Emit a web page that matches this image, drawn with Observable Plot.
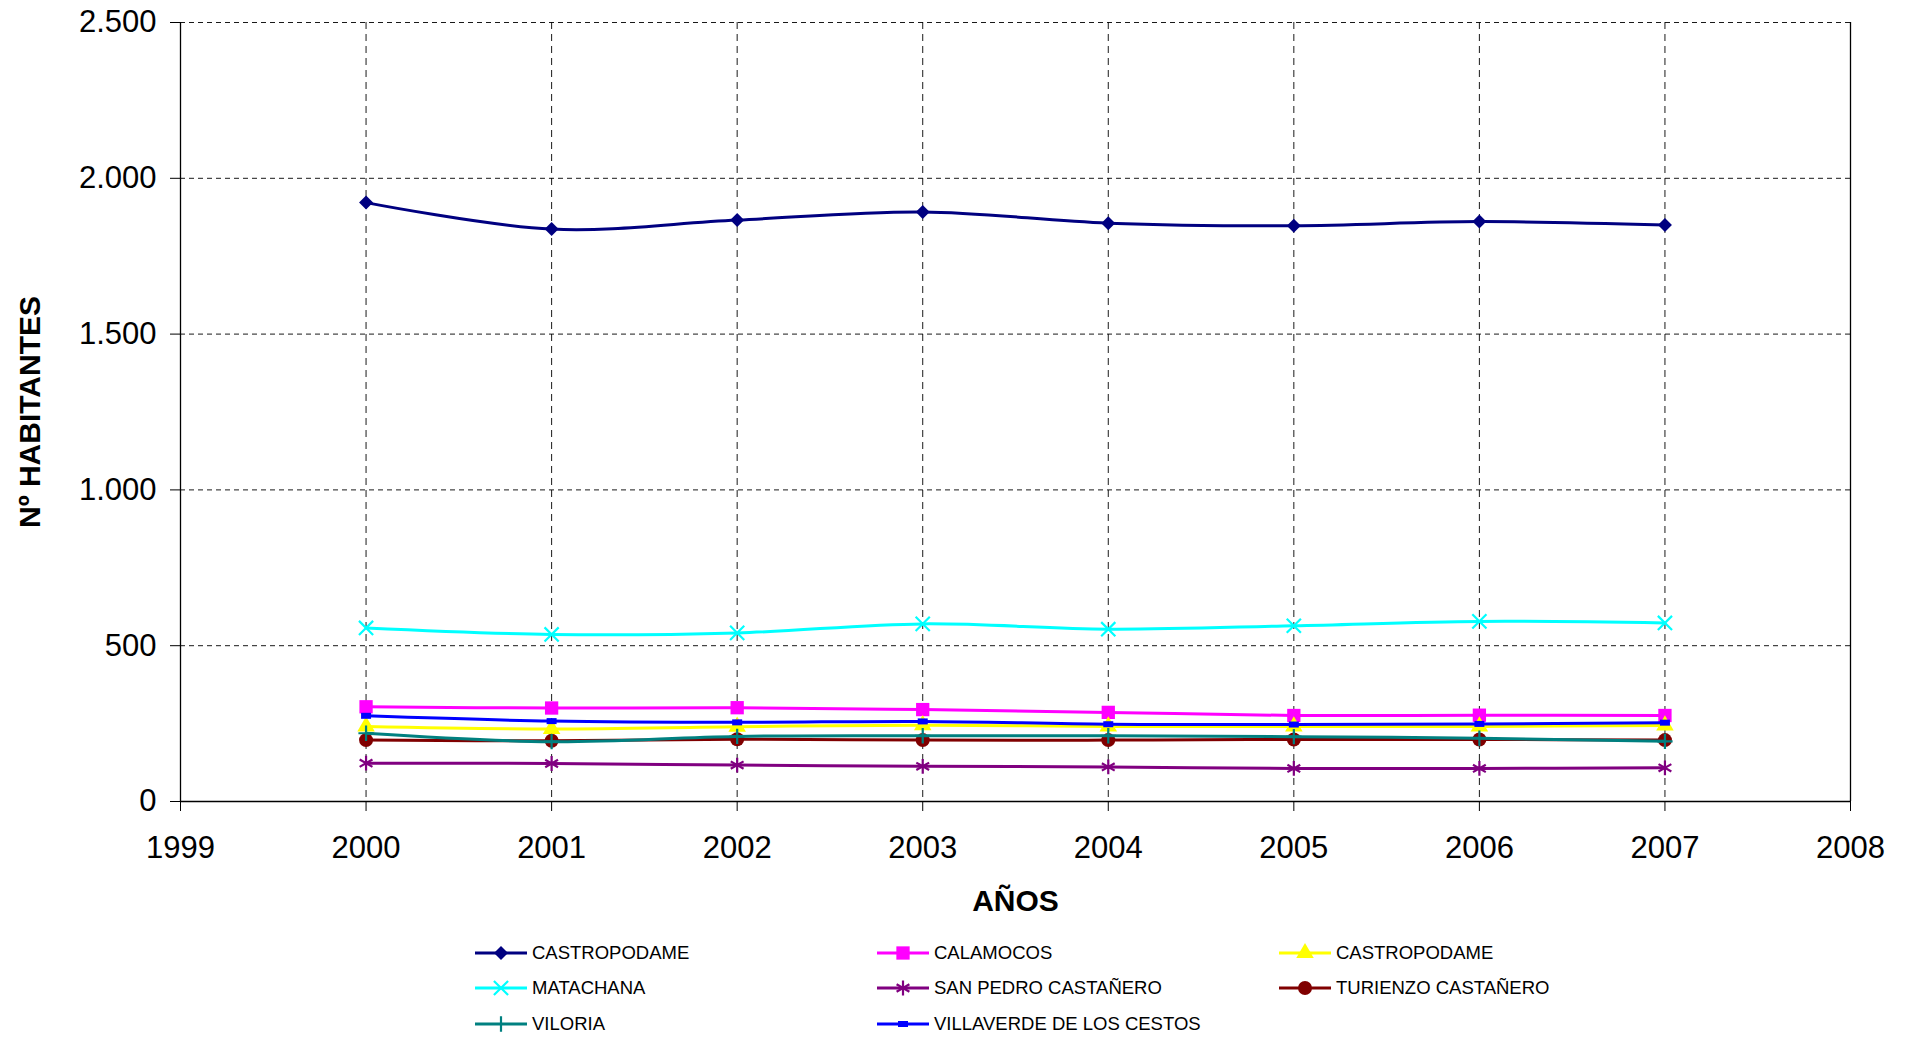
<!DOCTYPE html>
<html><head><meta charset="utf-8">
<script src="https://cdn.jsdelivr.net/npm/d3@7"></script>
<script src="https://cdn.jsdelivr.net/npm/@observablehq/plot@0.6"></script>
<style>
body{margin:0;background:#fff;font-family:"Liberation Sans",Arial,sans-serif;}
#wrap{position:relative;width:1907px;height:1037px;overflow:hidden;}
#legend{position:absolute;left:475px;top:935px;display:grid;grid-template-columns:402px 402px 402px;grid-auto-rows:35.5px;}
.item{display:flex;align-items:center;font-size:18.5px;color:#000;white-space:nowrap;}
.item svg{margin-right:5px;flex:none;}
</style></head><body><div id="wrap"><div id="chart"></div><div id="legend"></div></div>
<script>
// ---- data ----
const years = [2000, 2001, 2002, 2003, 2004, 2005, 2006, 2007];
const seriesNames = ["CASTROPODAME", "CALAMOCOS", "CASTROPODAME ", "MATACHANA", "SAN PEDRO CASTAÑERO", "TURIENZO CASTAÑERO", "VILORIA", "VILLAVERDE DE LOS CESTOS"];
const castropodame = [1922, 1837, 1866, 1892, 1856, 1848, 1861, 1850];
const calamocos = [304, 300, 301, 295, 286, 276, 277, 276];
const castropodame2 = [241, 233, 240, 245, 241, 241, 241, 244];
const matachana = [557, 536, 541, 570, 553, 564, 578, 573];
const sanPedro = [123, 122, 117, 113, 111, 106, 106, 108];
const turienzo = [197, 195, 200, 197, 197, 199, 199, 197];
const viloria = [219, 192, 209, 211, 211, 208, 203, 193];
const villaverde = [275, 258, 254, 257, 248, 247, 249, 253];
const xTicks = [1999, 2000, 2001, 2002, 2003, 2004, 2005, 2006, 2007, 2008];
const yTicks = [0, 500, 1000, 1500, 2000, 2500];
const yTitle = "Nº HABITANTES";
const xTitle = "AÑOS";

// ---- styles ----
const dashSymbol = {draw(ctx, size) { const w = 5, h = 3; ctx.rect(-w, -h, 2 * w, 2 * h); }};
const styles = [
  {color: "#000080", symbol: "diamond2", r: 6.3, fill: true},
  {color: "#FF00FF", symbol: "square", r: 7.5, fill: true},
  {color: "#FFFF00", symbol: "triangle", r: 6.5, fill: true},
  {color: "#00FFFF", symbol: "times", r: 6.5, fill: false},
  {color: "#800080", symbol: "asterisk", r: 7, fill: false},
  {color: "#800000", symbol: "circle", r: 7, fill: true},
  {color: "#008080", symbol: "plus", r: 5, fill: false},
  {color: "#0000FF", symbol: dashSymbol, r: 4, fill: true}
];
const allValues = [castropodame, calamocos, castropodame2, matachana, sanPedro, turienzo, viloria, villaverde];

const fmt = d => d3.format(",")(d).replace(/,/g, ".");

const marks = [
  Plot.gridY(yTicks.filter(d => d > 0), {stroke: "#000", strokeOpacity: 0.9, strokeDasharray: "5,4", strokeWidth: 1}),
  Plot.gridX(years, {stroke: "#000", strokeOpacity: 0.9, strokeDasharray: "7,5", strokeWidth: 1}),
  Plot.ruleY([0], {stroke: "#000", strokeWidth: 1.3}),
  Plot.ruleX([1999], {stroke: "#000", strokeWidth: 1.3}),
  Plot.ruleX([2008], {stroke: "#000", strokeWidth: 1.3}),
  Plot.axisY({ticks: yTicks, tickSize: 10, tickPadding: 14, tickFormat: fmt, fontSize: 31, label: null}),
  Plot.axisX({ticks: xTicks, tickSize: 10, tickPadding: 24, tickFormat: "d", fontSize: 31, label: null}),
  Plot.text([yTitle], {frameAnchor: "left", dx: -150, rotate: -90, text: d => d, fontSize: 30, fontWeight: "bold", textAnchor: "middle", lineAnchor: "middle"}),
  Plot.text([xTitle], {frameAnchor: "bottom", dy: 100, text: d => d, fontSize: 30, fontWeight: "bold", textAnchor: "middle", lineAnchor: "middle"})
];

seriesNames.forEach((name, i) => {
  const rows = years.map((y, j) => ({year: y, value: allValues[i][j]}));
  const s = styles[i];
  marks.push(Plot.line(rows, {x: "year", y: "value", stroke: s.color, strokeWidth: 3, curve: "catmull-rom"}));
  marks.push(Plot.dot(rows, s.fill
    ? {x: "year", y: "value", symbol: () => s.symbol, fill: s.color, stroke: "none", r: s.r}
    : {x: "year", y: "value", symbol: () => s.symbol, stroke: s.color, fill: "none", strokeWidth: 2.2, r: s.r}));
});

const chart = Plot.plot({
  width: 1907,
  height: 931,
  marginTop: 22,
  marginLeft: 180,
  marginRight: 57,
  marginBottom: 130,
  style: {fontFamily: '"Liberation Sans", Arial, sans-serif', background: "#fff", color: "#000", overflow: "visible"},
  x: {domain: [1999, 2008]},
  y: {domain: [0, 2500]},
  symbol: {type: "identity"},
  marks
});
document.getElementById("chart").appendChild(chart);

// ---- legend ----
const legend = d3.select("#legend");
seriesNames.forEach((name, i) => {
  const s = styles[i];
  const item = legend.append("div").attr("class", "item");
  const svg = item.append("svg").attr("width", 52).attr("height", 24);
  svg.append("line").attr("x1", 0).attr("x2", 52).attr("y1", 12).attr("y2", 12).attr("stroke", s.color).attr("stroke-width", 3);
  const symMap = {diamond2: d3.symbolDiamond2, square: d3.symbolSquare, triangle: d3.symbolTriangle, times: d3.symbolTimes, asterisk: d3.symbolAsterisk, circle: d3.symbolCircle, plus: d3.symbolPlus};
  const sym = typeof s.symbol === "string" ? symMap[s.symbol] : s.symbol;
  const path = d3.symbol(sym, s.r * s.r * Math.PI)();
  const p = svg.append("path").attr("d", path).attr("transform", "translate(26,12)");
  if (s.fill) p.attr("fill", s.color); else p.attr("fill", "none").attr("stroke", s.color).attr("stroke-width", 2.2);
  item.append("span").text(name.trim());
});
</script></body></html>
